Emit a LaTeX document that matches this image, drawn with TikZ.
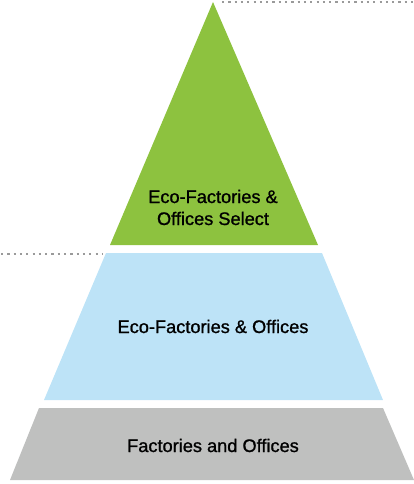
\documentclass[tikz,border=0pt]{standalone}
\usepackage{fontspec}
\setmainfont{Liberation Sans}
\newfontfamily\tierfont{Liberation Sans}[FakeBold=1]
\usepackage{xcolor}
\definecolor{ecogreen}{HTML}{8DC23F}
\definecolor{ecoblue}{HTML}{BDE3F7}
\definecolor{ecogrey}{HTML}{BFC0BF}
\definecolor{dotgrey}{HTML}{9A9A9A}
\usetikzlibrary{positioning, calc}

\begin{document}
\begin{tikzpicture}[
				x=1pt, y=-1pt,
				tier/.style={draw=none},
				lbl/.style={align=center, font=\tierfont\fontsize{18.2}{22}\selectfont, text=black, inner sep=0pt, anchor=base},
				guide/.style={dotgrey, line width=2.2pt, dash pattern=on 2.2pt off 4.1pt}
				]
				\useasboundingbox (0,0) rectangle (414,484);
				% top tier
				\fill[tier, ecogreen] (213,2) -- (318,245) -- (110,245) -- cycle;
				\node[lbl] (select) at (213,203) {Eco-Factories \&};
				\node[lbl] (select2) at (213,225) {Offices Select};
				% middle tier
				\fill[tier, ecoblue] (106,253) -- (322,253) -- (383,400) -- (44,400) -- cycle;
				\node[lbl] (eco) at (213,333) {Eco-Factories \& Offices};
				% base tier
				\fill[tier, ecogrey] (39,408) -- (383,408) -- (414,480) -- (10,480) -- cycle;
				\node[lbl] (base) at (213,452) {Factories and Offices};
				% guides
				\coordinate (apex) at (222,2);
				\coordinate (topend) at (414,2);
				\coordinate (midstart) at (1,254);
				\coordinate (midend) at (102,254);
				\draw[guide] (apex) -- (topend);
				\draw[guide] (midstart) -- (midend);
			\end{tikzpicture}
\end{document}
